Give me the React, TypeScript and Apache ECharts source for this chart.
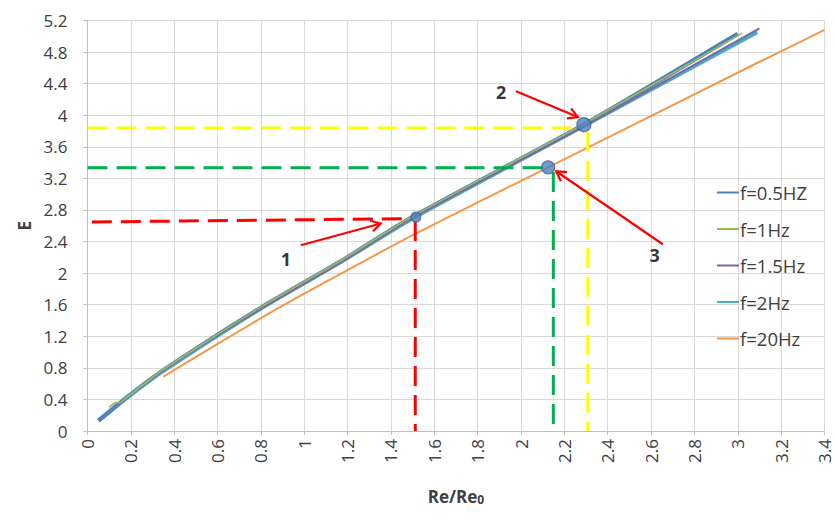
import React, { useEffect, useRef } from "react";
import * as echarts from "echarts";

const xMin = 0, xMax = 3.4, xStep = 0.2;
const yMin = 0, yMax = 5.2, yStep = 0.4;

const seriesNames = ["f=0.5HZ", "f=1Hz", "f=1.5Hz", "f=2Hz", "f=20Hz"];
const seriesColors = ["#4F81BD", "#9BBB59", "#8064A2", "#4BACC6", "#F79646"];

const s05 = [[0.05, 0.13], [0.17, 0.40], [0.34, 0.75], [0.8, 1.56], [1.17, 2.15], [1.5, 2.71], [2.29, 3.88], [3.0, 5.03]];
const s1 = [[0.10, 0.30], [0.13, 0.36], [0.15, 0.36], [0.17, 0.40], [0.34, 0.76], [0.8, 1.57], [1.17, 2.16], [1.5, 2.72], [2.29, 3.89], [3.02, 5.04]];
const s15 = [[0.15, 0.36], [0.17, 0.40], [0.34, 0.75], [0.8, 1.55], [1.17, 2.14], [1.5, 2.70], [2.29, 3.86], [3.10, 5.10]];
const s2 = [[0.17, 0.40], [0.34, 0.74], [0.8, 1.55], [1.17, 2.14], [1.5, 2.69], [2.29, 3.86], [3.09, 5.05]];
const s20 = [[0.35, 0.69], [0.8, 1.43], [1.0, 1.74], [1.5, 2.48], [2.125, 3.34], [2.3, 3.58], [3.11, 4.69], [3.4, 5.08]];

// highlighted points 1, 2, 3
const keyPoints = [[1.515, 2.71], [2.29, 3.88], [2.125, 3.34]];
const keyPointSizes = [10, 14, 13];

// dashed guide lines
const redH = [[0.02, 2.648], [1.49, 2.69]];
const redV = [[1.512, 2.66], [1.512, 0]];
const yellowH = [[0, 3.837], [2.26, 3.837]];
const yellowV = [[2.308, 3.79], [2.308, 0]];
const greenH = [[0, 3.336], [2.106, 3.336]];
const greenV = [[2.149, 3.28], [2.149, 0]];

// arrows [x1, y1, x2, y2]
const arrows = [
  [0.984, 2.353, 1.353, 2.628],
  [1.977, 4.305, 2.262, 3.977],
  [2.654, 2.366, 2.162, 3.29],
];
// number labels [x, y, text]
const numberLabels = [
  [0.915, 2.185, "1"],
  [1.908, 4.29, "2"],
  [2.616, 2.227, "3"],
];

const fmt = (v: number) => String(Math.round(v * 10) / 10);
const FONT = "'Open Sans', 'Liberation Sans', sans-serif";
const TXT = "#404040";

export default function App() {
  const ref = useRef<HTMLDivElement>(null);
  useEffect(() => {
    if (!ref.current) return;
    const chart = echarts.init(ref.current, undefined, { renderer: "svg" });
    const dash = (data: number[][], color: string) => ({
      type: "line",
      data,
      symbol: "none",
      z: 4,
      lineStyle: { color, width: 3, type: [20, 9] },
      silent: true,
    });
    const lineS = (i: number, data: number[][], width: number, smooth = 0.2) => ({
      name: seriesNames[i],
      type: "line",
      data,
      symbol: "none",
      showSymbol: false,
      smooth,
      color: seriesColors[i],
      lineStyle: { color: seriesColors[i], width },
    });
    chart.setOption({
      animation: false,
      backgroundColor: "#ffffff",
      textStyle: { fontFamily: FONT },
      grid: { left: 87.5, right: 10.5, top: 20.5, bottom: 87, containLabel: false },
      legend: {
        data: seriesNames,
        orient: "vertical",
        left: 711,
        top: 178,
        itemWidth: 22,
        itemHeight: 14,
        itemGap: 17.5,
        itemStyle: { opacity: 0 },
        lineStyle: { width: 2 },
        textStyle: { fontFamily: FONT, fontSize: 18.5, color: TXT, padding: [0, 0, 0, -4] },
      },
      xAxis: {
        type: "value",
        min: xMin,
        max: xMax,
        interval: xStep,
        name: "{a|Re/Re}{b|0}",
        nameLocation: "middle",
        nameGap: 56,
        nameTextStyle: {
          rich: {
            a: { fontFamily: FONT, fontSize: 17, fontWeight: "bold", color: TXT },
            b: { fontFamily: FONT, fontSize: 12, fontWeight: "bold", color: TXT, padding: [6, 0, 0, 0] },
          },
        },
        axisLine: { lineStyle: { color: "#BFBFBF", width: 1 } },
        axisTick: { show: true, length: 4, lineStyle: { color: "#BFBFBF" } },
        axisLabel: { rotate: 90, fontSize: 17, lineHeight: 15, color: TXT, fontFamily: FONT, margin: 8, formatter: fmt },
        splitLine: { show: true, lineStyle: { color: "#D9D9D9", width: 1 } },
      },
      yAxis: {
        type: "value",
        min: yMin,
        max: yMax,
        interval: yStep,
        name: "E",
        nameLocation: "middle",
        nameGap: 47,
        nameTextStyle: { fontFamily: FONT, fontSize: 17, fontWeight: "bold", color: TXT },
        axisLine: { show: true, lineStyle: { color: "#BFBFBF", width: 1 } },
        axisTick: { show: true, length: 4, lineStyle: { color: "#BFBFBF" } },
        axisLabel: { fontSize: 17, color: TXT, fontFamily: FONT, margin: 20, formatter: fmt },
        splitLine: { show: true, lineStyle: { color: "#D9D9D9", width: 1 } },
      },
      series: [
        lineS(0, s05, 4.5),
        lineS(3, s2, 3.5),
        lineS(2, s15, 2),
        lineS(1, s1, 1.6),
        lineS(4, s20, 2),
        dash(redH, "#FF0000"),
        dash(redV, "#FF0000"),
        dash(yellowH, "#FFFF00"),
        dash(yellowV, "#FFFF00"),
        dash(greenH, "#00B050"),
        dash(greenV, "#00B050"),
        {
          type: "custom",
          z: 5,
          silent: true,
          data: arrows,
          encode: { x: [0, 2], y: [1, 3] },
          renderItem: (params: any, api: any) => {
            const p1 = api.coord([api.value(0), api.value(1)]);
            const p2 = api.coord([api.value(2), api.value(3)]);
            const ang = Math.atan2(p2[1] - p1[1], p2[0] - p1[0]);
            const L = 11, w = Math.PI / 6;
            const a1 = [p2[0] - L * Math.cos(ang - w), p2[1] - L * Math.sin(ang - w)];
            const a2 = [p2[0] - L * Math.cos(ang + w), p2[1] - L * Math.sin(ang + w)];
            const st = { stroke: "#FF0000", lineWidth: 2.2, fill: null };
            return {
              type: "group",
              children: [
                { type: "line", shape: { x1: p1[0], y1: p1[1], x2: p2[0], y2: p2[1] }, style: st },
                { type: "polyline", shape: { points: [a1, p2, a2] }, style: st },
              ],
            };
          },
        },
        {
          type: "scatter",
          z: 6,
          silent: true,
          data: keyPoints.map((p, i) => ({ value: p, symbolSize: keyPointSizes[i] })),
          itemStyle: { color: "#4F81BD", borderColor: "#385D8A", borderWidth: 1.2 },
        },
        {
          type: "scatter",
          z: 6,
          silent: true,
          symbolSize: 0,
          data: numberLabels,
          label: {
            show: true,
            position: "inside",
            formatter: (p: any) => p.value[2],
            fontFamily: FONT,
            fontSize: 18,
            fontWeight: "bold",
            color: "#000000",
          },
        },
      ],
    });
    return () => chart.dispose();
  }, []);
  return <div ref={ref} style={{ position: "fixed", left: 0, top: 0, width: 835, height: 518 }} />;
}
